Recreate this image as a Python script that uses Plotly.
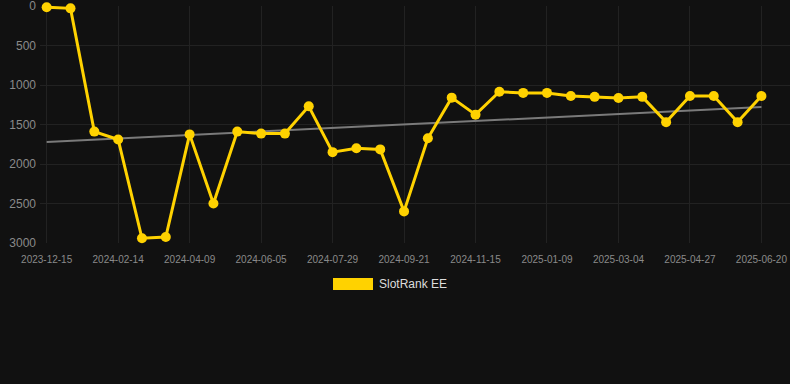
import plotly.graph_objects as go

dates = ["2023-12-15", "2024-01-04", "2024-01-25", "2024-02-14", "2024-03-03", "2024-03-21",
         "2024-04-09", "2024-04-28", "2024-05-17", "2024-06-05", "2024-06-23", "2024-07-11",
         "2024-07-29", "2024-08-16", "2024-09-03", "2024-09-21", "2024-10-09", "2024-10-27",
         "2024-11-15", "2024-12-03", "2024-12-21", "2025-01-09", "2025-01-27", "2025-02-14",
         "2025-03-04", "2025-03-22", "2025-04-09", "2025-04-27", "2025-05-15", "2025-06-02",
         "2025-06-20"]
rank = [15, 30, 1590, 1690, 2940, 2925, 1625, 2500, 1590, 1615, 1615, 1270,
        1850, 1800, 1815, 2600, 1675, 1160, 1375, 1085, 1100, 1100, 1140, 1150,
        1165, 1150, 1470, 1140, 1140, 1470, 1140]
trend_x = [dates[0], dates[-1]]
trend_y = [1722, 1278]
tick_labels = dates[::3]
y_ticks = [0, 500, 1000, 1500, 2000, 2500, 3000]
series_name = "SlotRank EE"

W, H = 790, 384
ml, mr, mt, mb = 40, 0, 6, 141
pw, ph = W - ml - mr, H - mt - mb

def px_x(p):
    return (p - ml) / pw

def px_y(p):
    return (H - mb - p) / ph

fig = go.Figure()
fig.add_trace(go.Scatter(x=trend_x, y=trend_y, mode="lines",
                         line=dict(color="#7a7a7a", width=2), showlegend=False,
                         hoverinfo="skip"))
fig.add_trace(go.Scatter(x=dates, y=rank, mode="lines+markers", name=series_name,
                         line=dict(color="#FFD200", width=3),
                         marker=dict(color="#FFD200", size=10),
                         cliponaxis=False, showlegend=False))

fig.update_layout(
    width=W, height=H,
    margin=dict(l=ml, r=mr, t=mt, b=mb),
    paper_bgcolor="#111111", plot_bgcolor="#111111",
    font=dict(family="Liberation Sans, Arial, sans-serif", color="#8a8a8a"),
    xaxis=dict(type="category", categoryorder="array", categoryarray=dates,
               range=[-0.28, 31.2], tickmode="array", tickvals=tick_labels,
               ticktext=tick_labels, tickfont=dict(size=10, color="#8a8a8a"),
               showgrid=True, gridcolor="#222222", gridwidth=1, zeroline=False,
               showline=False, ticks="", ticklabelstandoff=9,
               ticklabeloverflow="allow"),
    yaxis=dict(range=[3000, 0], tickmode="array", tickvals=y_ticks,
               tickfont=dict(size=12, color="#8a8a8a"), showgrid=True,
               gridcolor="#222222", gridwidth=1, zeroline=False, showline=False,
               ticks="", ticklabelstandoff=3, ticklabeloverflow="allow"),
    showlegend=False,
)

fig.add_shape(type="rect", xref="paper", yref="paper",
              x0=px_x(333), x1=px_x(373), y0=px_y(290), y1=px_y(278),
              fillcolor="#FFD200", line=dict(width=0))
fig.add_annotation(xref="paper", yref="paper", x=px_x(377), y=px_y(284),
                   xanchor="left", yanchor="middle", text=series_name,
                   showarrow=False, font=dict(size=12, color="#dddddd",
                                              family="Liberation Sans, Arial, sans-serif"))

fig.write_html("out.html", config={"displayModeBar": False},
               post_script="document.body.style.margin='0';document.body.style.background='#111111';")
